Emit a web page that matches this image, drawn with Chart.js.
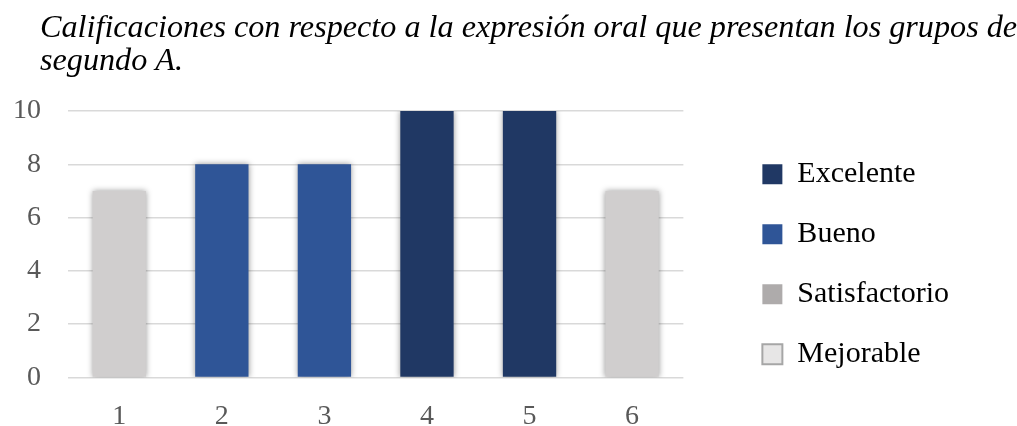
<!DOCTYPE html>
<html>
<head>
<meta charset="utf-8">
<script src="https://cdn.jsdelivr.net/npm/chart.js@4"></script>
<style>
html,body{margin:0;padding:0;background:#fff;overflow:hidden;}
canvas{display:block;}
</style>
</head>
<body>
<canvas id="c" width="1017" height="426"></canvas>
<script>
const titleLines = ['Calificaciones con respecto a la expresión oral que presentan los grupos de','segundo A.'];
const categories = ['1','2','3','4','5','6'];
const seriesNames = ['Excelente','Bueno','Satisfactorio','Mejorable'];
const excelente = [null,null,null,10,10,null];
const bueno = [null,8,8,null,null,null];
const satisfactorio = [null,null,null,null,null,null];
const mejorable = [7,null,null,null,null,7];
const yTicks = [0,2,4,6,8,10];

const colors = ['#203864','#2F5597','#AEABAB','#D0CECE'];
const legendFill = ['#203864','#2F5597','#AEABAB','#E7E6E6'];
const legendBorder = ['#203864','#2F5597','#AEABAB','#A6A6A6'];
const serif = '"Liberation Serif","Times New Roman",serif';
const LEGEND_GAP = 49;

const shadowPlugin = {
  id:'shadow',
  beforeDatasetsDraw(chart){
    const ctx = chart.ctx; ctx.save();
    ctx.shadowColor='rgba(0,0,0,0.4)'; ctx.shadowBlur=6; ctx.shadowOffsetX=0; ctx.shadowOffsetY=0;
  },
  afterDatasetsDraw(chart){ chart.ctx.restore(); }
};
const titlePlugin = {
  id:'leftTitle',
  afterDraw(chart){
    const ctx = chart.ctx;
    ctx.save();
    ctx.font = 'italic 32.2px ' + serif;
    ctx.fillStyle = '#000'; ctx.textBaseline = 'alphabetic'; ctx.textAlign = 'left';
    const base = [37, 70];
    titleLines.forEach((t,i)=>ctx.fillText(t, 40, base[i]));
    ctx.restore();
  }
};
const legendGapPlugin = {
  id:'legendGap',
  afterInit(chart){
    const lg = chart.legend; if(!lg) return;
    const f = lg.fit.bind(lg);
    lg.fit = function(){ f(); this.width += LEGEND_GAP; };
  },
  afterLayout(chart){ if(chart.legend) chart.legend.left += LEGEND_GAP; }
};

new Chart(document.getElementById('c'), {
  type:'bar',
  data:{
    labels:categories,
    datasets:[excelente,bueno,satisfactorio,mejorable].map((d,i)=>({
      label:seriesNames[i], data:d, backgroundColor:colors[i], borderWidth:0,
      barPercentage:0.52, categoryPercentage:1.0
    }))
  },
  plugins:[shadowPlugin,titlePlugin,legendGapPlugin],
  options:{
    responsive:false, animation:false, devicePixelRatio:1,
    layout:{padding:{top:111,left:-14,right:58,bottom:-21}},
    plugins:{
      title:{display:false},
      tooltip:{enabled:false},
      legend:{
        position:'right', align:'start',
        title:{display:true,text:' ',font:{size:1},padding:{top:17,bottom:0}},
        labels:{
          font:{family:serif,size:30}, color:'#000', boxWidth:20, boxHeight:20, padding:30,
          generateLabels(chart){
            return seriesNames.map((n,i)=>({text:n,fillStyle:legendFill[i],strokeStyle:legendBorder[i],lineWidth:i===3?2:0,datasetIndex:i,hidden:false,fontColor:'#000'}));
          }
        }
      }
    },
    scales:{
      x:{
        stacked:true,
        grid:{display:false}, border:{display:false},
        ticks:{font:{family:serif,size:28},color:'#595959',padding:14}
      },
      y:{
        stacked:true, min:0, max:10,
        afterBuildTicks(axis){ axis.ticks = yTicks.map(v=>({value:v})); },
        grid:{color:'#D9D9D9',lineWidth:1.5,drawTicks:false},
        border:{display:false},
        ticks:{font:{family:serif,size:28},color:'#595959',padding:27}
      }
    }
  }
});
</script>
</body>
</html>
